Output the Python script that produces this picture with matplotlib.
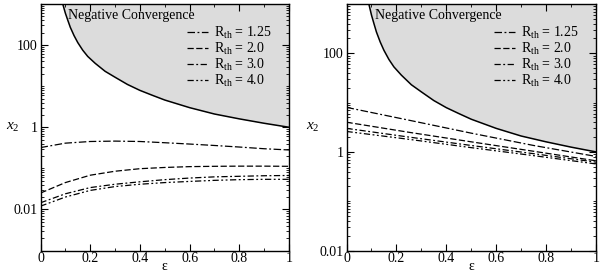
import matplotlib.pyplot as plt
import matplotlib.ticker as mticker

plt.rcParams['font.family'] = ['Liberation Serif', 'DejaVu Serif']
plt.rcParams['mathtext.fontset'] = 'custom'
plt.rcParams['mathtext.rm'] = 'Liberation Serif'
plt.rcParams['mathtext.it'] = 'Liberation Serif:italic'

# boundary of the negative convergence region (same in both panels)
eps_bound = [0.083, 0.09, 0.1, 0.11, 0.12, 0.135, 0.15, 0.17, 0.19, 0.22, 0.26,
             0.3, 0.35, 0.4, 0.45, 0.5, 0.6, 0.7, 0.8, 0.9, 1.0]
x2_bound = [1700, 980, 600, 400, 270, 170, 115, 75, 53, 36, 23,
            16.5, 11, 7.9, 6.0, 4.6, 3.0, 2.1, 1.6, 1.25, 1.0]

# left panel
eps_left = [0, 0.1, 0.2, 0.3, 0.4, 0.5, 0.6, 0.7, 0.8, 0.9, 1.0]
left_r125 = [0.32, 0.41, 0.45, 0.46, 0.45, 0.42, 0.39, 0.36, 0.33, 0.30, 0.28]
left_r20 = [0.025, 0.045, 0.068, 0.085, 0.098, 0.105, 0.11, 0.112, 0.113, 0.113, 0.112]
left_r30 = [0.0145, 0.024, 0.034, 0.041, 0.047, 0.053, 0.058, 0.062, 0.064, 0.066, 0.067]
left_r40 = [0.012, 0.02, 0.029, 0.036, 0.041, 0.045, 0.048, 0.051, 0.053, 0.054, 0.054]

# right panel
eps_right = [0, 0.25, 0.5, 0.75, 1.0]
right_r125 = [8.0, 4.4, 2.4, 1.35, 0.81]
right_r20 = [4.0, 2.5, 1.6, 1.03, 0.66]
right_r30 = [3.0, 2.0, 1.35, 0.92, 0.62]
right_r40 = [2.6, 1.8, 1.22, 0.84, 0.57]

labels = [r'R$_{\rm th}$ = 1.25', r'R$_{\rm th}$ = 2.0',
          r'R$_{\rm th}$ = 3.0', r'R$_{\rm th}$ = 4.0']
styles = [(0, (6, 2, 1.5, 2, 6, 2)), (0, (5, 2)), (0, (5, 2, 1.5, 2)),
          (0, (5, 2, 1.5, 2, 1.5, 2))]

fig = plt.figure(figsize=(6, 2.75), dpi=100)
ax1 = fig.add_axes([40.5 / 600, 24.5 / 275, 248.5 / 600, 246.5 / 275])
ax2 = fig.add_axes([346.5 / 600, 24.5 / 275, 249.5 / 600, 246.5 / 275])


def draw(ax, eps, series, ymin, ylab_x, text_x):
    ymax = 1000
    ax.fill_between(eps_bound, x2_bound, 5000, color='#dcdcdc', lw=0)
    ax.plot(eps_bound, x2_bound, color='black', lw=1.1)
    for vals, lab, ls in zip(series, labels, styles):
        ax.plot(eps, vals, color='black', lw=0.9, ls=ls, label=lab)
    ax.set_yscale('log')
    ax.set_xlim(0, 1)
    ax.set_ylim(ymin, ymax)
    ax.yaxis.set_major_locator(mticker.FixedLocator([0.01, 1, 100]))
    ax.yaxis.set_major_formatter(mticker.FixedFormatter(['0.01', '1', '100']))
    ax.yaxis.set_minor_locator(mticker.LogLocator(base=10, subs=range(1, 10), numticks=20))
    ax.yaxis.set_minor_formatter(mticker.NullFormatter())
    ax.xaxis.set_major_locator(mticker.MultipleLocator(0.2))
    ax.xaxis.set_minor_locator(mticker.MultipleLocator(0.1))
    ax.xaxis.set_major_formatter(mticker.FuncFormatter(lambda v, p: '%g' % round(v, 1)))
    ax.tick_params(which='both', direction='in', top=True, right=True, labelsize=10)
    ax.tick_params(axis='x', pad=1)
    ax.tick_params(axis='y', pad=2)
    ax.tick_params(which='major', length=5, width=0.8)
    ax.tick_params(which='minor', length=2.5, width=0.6)
    ax.set_xlabel('ε', fontsize=10, va='baseline')
    ax.xaxis.set_label_coords(0.5, -0.078)
    ax.set_ylabel('$x_2$', fontsize=11, rotation=0, va='center', ha='center')
    ax.yaxis.set_label_coords(ylab_x, 0.5)
    ax.text(text_x, 0.955, 'Negative Convergence', transform=ax.transAxes,
            fontsize=10, va='center', ha='left')
    ax.legend(loc='upper right', bbox_to_anchor=(0.93, 0.915), frameon=False,
              fontsize=10, handlelength=1.5, handletextpad=0.4,
              labelspacing=0.0, borderaxespad=0.0, borderpad=0.0)
    for s in ax.spines.values():
        s.set_linewidth(1.0)


draw(ax1, eps_left, [left_r125, left_r20, left_r30, left_r40], 0.001, -0.11, 0.11)
draw(ax2, eps_right, [right_r125, right_r20, right_r30, right_r40], 0.01, -0.135, 0.115)

fig.savefig('out.png', dpi=100)
